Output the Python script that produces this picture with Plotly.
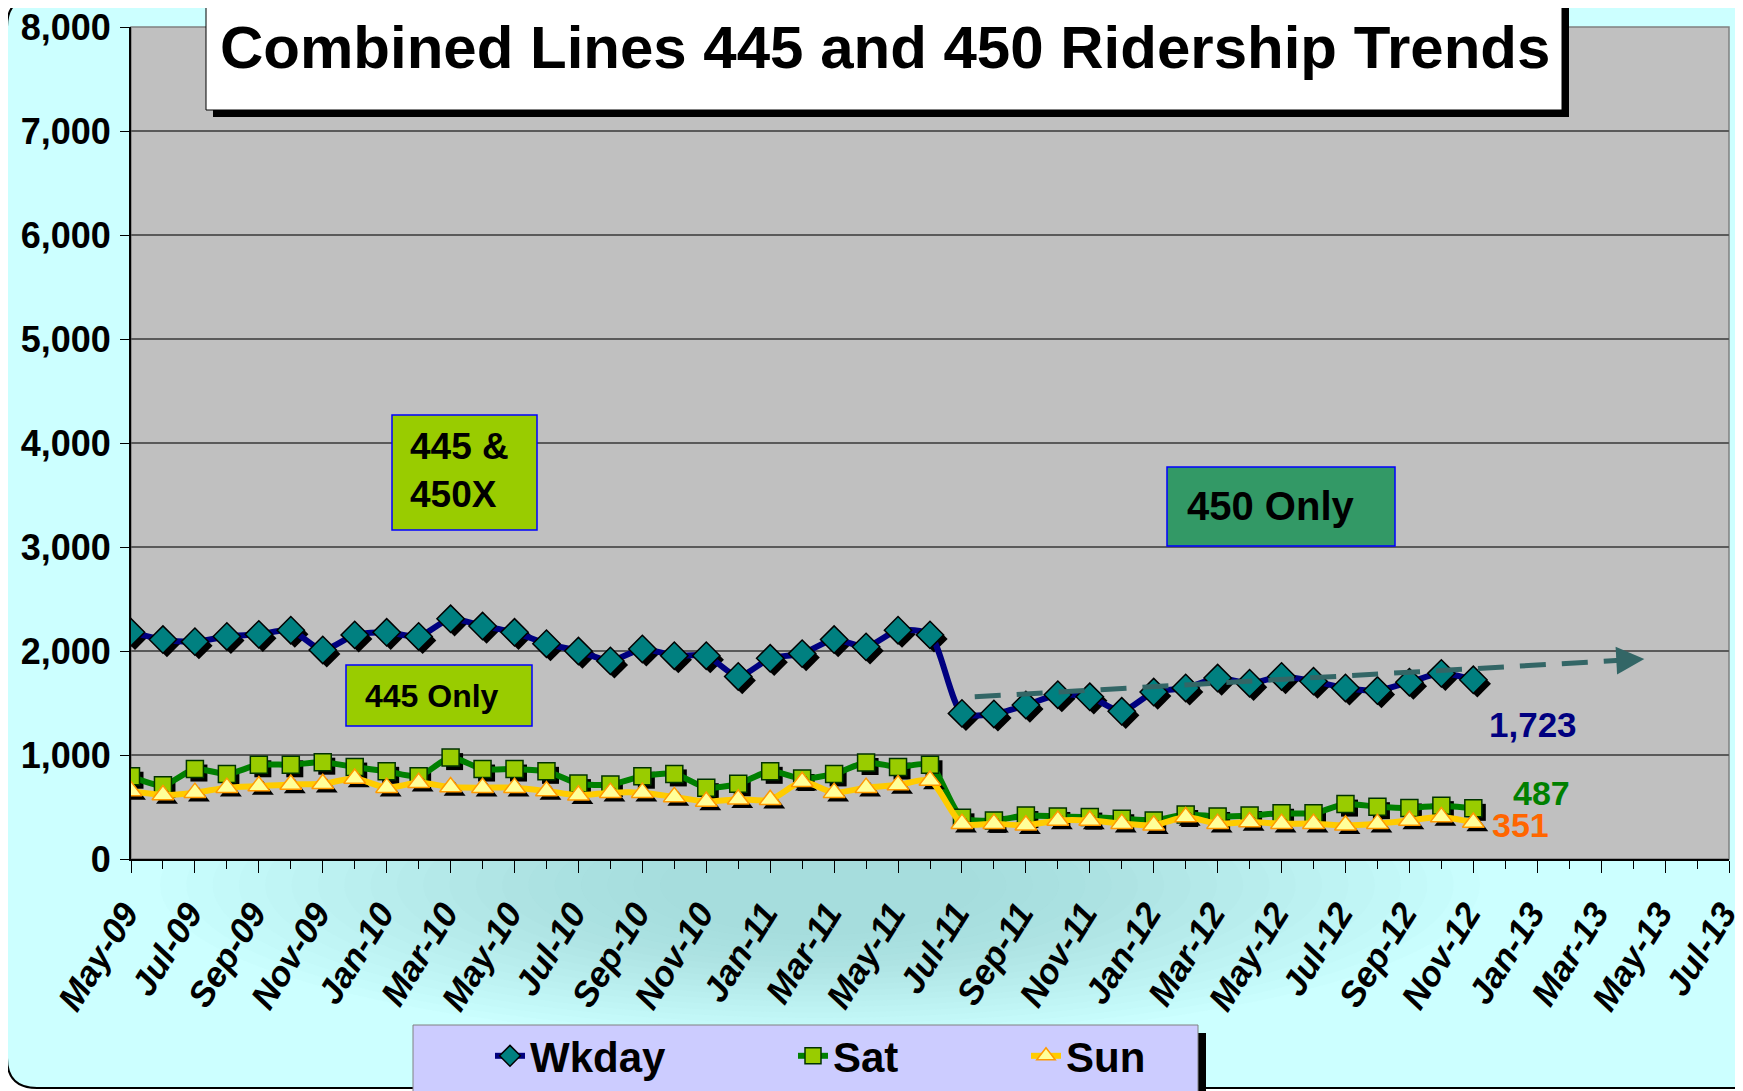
import plotly.graph_objects as go

# ---------------- data ----------------
months = ["May-09","Jun-09","Jul-09","Aug-09","Sep-09","Oct-09","Nov-09","Dec-09",
          "Jan-10","Feb-10","Mar-10","Apr-10","May-10","Jun-10","Jul-10","Aug-10",
          "Sep-10","Oct-10","Nov-10","Dec-10","Jan-11","Feb-11","Mar-11","Apr-11",
          "May-11","Jun-11","Jul-11","Aug-11","Sep-11","Oct-11","Nov-11","Dec-11",
          "Jan-12","Feb-12","Mar-12","Apr-12","May-12","Jun-12","Jul-12","Aug-12",
          "Sep-12","Oct-12","Nov-12"]
tick_labels = ["May-09","Jul-09","Sep-09","Nov-09","Jan-10","Mar-10","May-10","Jul-10",
               "Sep-10","Nov-10","Jan-11","Mar-11","May-11","Jul-11","Sep-11","Nov-11",
               "Jan-12","Mar-12","May-12","Jul-12","Sep-12","Nov-12","Jan-13","Mar-13",
               "May-13","Jul-13"]
wkday = [2180, 2110, 2090, 2140, 2160, 2200, 2010, 2155, 2180, 2140, 2310, 2240, 2180, 2070,
         2000, 1905, 2020, 1955, 1955, 1755, 1930, 1975, 2110, 2040, 2200, 2155, 1400, 1395,
         1480, 1580, 1560, 1420, 1605, 1645, 1740, 1690, 1755, 1710, 1645, 1620, 1700, 1785, 1723]
sat = [796, 708, 865, 818, 906, 906, 931, 884, 843, 796, 975, 865, 865, 843, 725, 717,
       796, 818, 686, 723, 843, 774, 818, 928, 884, 906, 396, 371, 418, 409, 403, 387,
       371, 428, 409, 418, 440, 440, 528, 503, 491, 513, 487]
sun = [654, 616, 638, 686, 701, 717, 723, 774, 686, 733, 692, 686, 686, 654, 612, 638,
       638, 597, 553, 575, 569, 742, 638, 686, 711, 755, 340, 340, 324, 371, 371, 340,
       324, 403, 340, 355, 340, 340, 324, 340, 371, 403, 351]

x = list(range(len(months)))

# ---------------- geometry helpers (viewport pixels) ----------------
W, H = 1743, 1091
OFF = 8                      # default page margin around the figure
PL, PT, PR, PB = 131, 27, 1729, 859   # plot area in viewport pixels
PW, PH = PR - PL, PB - PT
ML, MT = PL - OFF, PT - OFF
MR, MB = W - (PR - OFF), H - (PB - OFF)


def px(v):
    return (v - PL) / PW


def py(v):
    return (PB - v) / PH


N_AXIS = 50
YMAX = 8000
dx_sh = 4 / (PW / N_AXIS)
dy_sh = 4 / (PH / YMAX)

FONT = "Liberation Sans, Arial, sans-serif"

series = [
    ("Wkday", wkday, "#000080", "diamond", "#008080", "#000000", 21, "legend"),
    ("Sat", sat, "#008000", "square", "#99CC00", "#003300", 17, "legend2"),
    ("Sun", sun, "#FFCC00", "triangle-up", "#FFFF99", "#FF9900", 19, "legend3"),
]

fig = go.Figure()
for name, vals, lc, sym, mfill, mline, msize, lg in series:
    fig.add_trace(go.Scatter(
        x=[v + dx_sh for v in x], y=[v - dy_sh for v in vals], mode="markers",
        marker=dict(symbol=sym, size=msize, color="black", line=dict(width=0)),
        showlegend=False, hoverinfo="skip"))
    fig.add_trace(go.Scatter(
        x=x, y=vals, name=name, mode="lines+markers", customdata=months,
        line=dict(color=lc, width=6, shape="spline", smoothing=0.7),
        marker=dict(symbol=sym, size=msize, color=mfill, line=dict(color=mline, width=1.5)),
        legend=lg, hovertemplate="%{customdata}: %{y:,}<extra>" + name + "</extra>"))

shapes = []
# outer frame
r = 30
fx0, fy0, fx1, fy1 = 7, -3, 1800, 1088
shapes.append(dict(type="path", xref="paper", yref="paper", layer="below",
                   path=(f"M {px(fx0+r)},{py(fy0)} L {px(fx1)},{py(fy0)} L {px(fx1)},{py(fy1)} "
                         f"L {px(fx0+r)},{py(fy1)} Q {px(fx0)},{py(fy1)} {px(fx0)},{py(fy1-r)} "
                         f"L {px(fx0)},{py(fy0+r)} Q {px(fx0)},{py(fy0)} {px(fx0+r)},{py(fy0)} Z"),
                   fillcolor="#CCFFFF", line=dict(color="black", width=2)))
# soft darker zone below the plot
cx, cy = 820, 885
n_layers = 20
for k in range(n_layers):
    t = k / (n_layers - 1)
    rx = 660 - t * 500
    ry = 155 - t * 105
    shapes.append(dict(type="circle", xref="paper", yref="paper", layer="below",
                       x0=px(cx - rx), x1=px(cx + rx), y0=py(cy + ry), y1=py(cy - ry),
                       fillcolor="#8FC0C0", opacity=0.036, line=dict(width=0)))
# plot area background
shapes.append(dict(type="rect", xref="paper", yref="paper", layer="below",
                   x0=0, x1=1, y0=0, y1=1, fillcolor="#C0C0C0", line=dict(width=0)))
shapes.append(dict(type="rect", xref="paper", yref="paper", layer="below",
                   x0=0, x1=1, y0=0, y1=1, line=dict(color="#808080", width=1.5)))
# title box
shapes.append(dict(type="rect", xref="paper", yref="paper", layer="above",
                   x0=px(213), x1=px(1569), y0=py(117), y1=py(-10),
                   fillcolor="black", line=dict(width=0)))
shapes.append(dict(type="rect", xref="paper", yref="paper", layer="above",
                   x0=px(206), x1=px(1562), y0=py(110), y1=py(-10),
                   fillcolor="white", line=dict(color="black", width=1)))
# legend box
shapes.append(dict(type="rect", xref="paper", yref="paper", layer="above",
                   x0=px(421), x1=px(1206), y0=py(1100), y1=py(1033),
                   fillcolor="black", line=dict(width=0)))
shapes.append(dict(type="rect", xref="paper", yref="paper", layer="above",
                   x0=px(413), x1=px(1198), y0=py(1100), y1=py(1025),
                   fillcolor="#CCCCFF", line=dict(color="#808080", width=1)))
# callout boxes
boxes = [((392, 415, 537, 530), "#99CC00"),
         ((346, 665, 532, 726), "#99CC00"),
         ((1167, 467, 1395, 546), "#339966")]
for (bx0, by0, bx1, by1), col in boxes:
    shapes.append(dict(type="rect", xref="paper", yref="paper", layer="above",
                       x0=px(bx0), x1=px(bx1), y0=py(by1), y1=py(by0),
                       fillcolor=col, line=dict(color="#0000FF", width=1.5)))

# trend arrow (dashed)
trend_start = (26.4, 1560)
trend_end = (46.6, 1910)
shapes.append(dict(type="line", xref="x", yref="y", layer="above",
                   x0=trend_start[0], y0=trend_start[1], x1=trend_end[0], y1=trend_end[1],
                   line=dict(color="#336666", width=5, dash="26px,16px")))

annotations = [
    dict(xref="paper", yref="paper", x=px(885), y=py(48), xanchor="center", yanchor="middle",
         text="<b>Combined Lines 445 and 450 Ridership Trends</b>", showarrow=False,
         font=dict(family=FONT, size=60, color="black")),
    dict(xref="paper", yref="paper", x=px(408), y=py(470), xanchor="left", yanchor="middle",
         text="<b>445 &amp;<br>450X</b>", showarrow=False, align="left",
         font=dict(family=FONT, size=37, color="black")),
    dict(xref="paper", yref="paper", x=px(363), y=py(696), xanchor="left", yanchor="middle",
         text="<b>445 Only</b>", showarrow=False, font=dict(family=FONT, size=32, color="black")),
    dict(xref="paper", yref="paper", x=px(1185), y=py(506), xanchor="left", yanchor="middle",
         text="<b>450 Only</b>", showarrow=False, font=dict(family=FONT, size=40, color="black")),
    dict(xref="x", yref="y", x=trend_end[0] + 0.75, y=trend_end[1] + 12,
         ax=trend_end[0] - 0.1, ay=trend_end[1] - 2, axref="x", ayref="y",
         text="", showarrow=True, arrowhead=2, arrowsize=1.4, arrowwidth=4, arrowcolor="#336666"),
    dict(xref="x", yref="y", x=x[-1], y=wkday[-1], xshift=60, yshift=-45, showarrow=False,
         text=f"<b>{wkday[-1]:,}</b>", font=dict(family=FONT, size=35, color="#000080")),
    dict(xref="x", yref="y", x=x[-1], y=sat[-1], xshift=68, yshift=15, showarrow=False,
         text=f"<b>{sat[-1]:,}</b>", font=dict(family=FONT, size=34, color="#008000")),
    dict(xref="x", yref="y", x=x[-1], y=sun[-1], xshift=47, yshift=-2, showarrow=False,
         text=f"<b>{sun[-1]:,}</b>", font=dict(family=FONT, size=34, color="#FF6600")),
]

leg_common = dict(orientation="h", bgcolor="rgba(0,0,0,0)", borderwidth=0,
                  xref="container", yref="container",
                  xanchor="left", yanchor="middle",
                  font=dict(family=FONT, size=42, color="black", weight="bold"))
LEG_Y = 1 - (1056 - OFF) / H
fig.update_layout(
    width=W, height=H,
    margin=dict(l=ML, r=MR, t=MT, b=MB, autoexpand=False),
    paper_bgcolor="white",
    plot_bgcolor="rgba(0,0,0,0)",
    shapes=shapes,
    annotations=annotations,
    legend=dict(x=(490 - OFF) / W, y=LEG_Y, **leg_common),
    legend2=dict(x=(793 - OFF) / W, y=LEG_Y, **leg_common),
    legend3=dict(x=(1026 - OFF) / W, y=LEG_Y, **leg_common),
    xaxis=dict(range=[-0.0001, N_AXIS + 0.0001], tickmode="array",
               tickvals=list(range(0, N_AXIS + 1, 2)), ticktext=tick_labels,
               tickangle=-58, showgrid=False, zeroline=False, automargin=False,
               ticklabeloverflow="allow", ticklabelshift=-6,
               showline=True, linecolor="black", linewidth=2,
               ticks="outside", ticklen=12, tickcolor="black", tickwidth=1,
               ticklabelstandoff=6,
               tickfont=dict(family=FONT, size=35, color="black", weight="bold", style="italic"),
               minor=dict(tickmode="linear", tick0=0, dtick=1, ticks="outside", ticklen=8,
                          tickcolor="black", showgrid=False)),
    yaxis=dict(range=[0, YMAX], dtick=1000, tickformat=",", showgrid=True,
               gridcolor="#5a5a5a", gridwidth=1.5, zeroline=False, automargin=False,
               ticklabeloverflow="allow",
               showline=True, linecolor="black", linewidth=2,
               ticks="outside", ticklen=9, tickcolor="black", ticklabelstandoff=2,
               tickfont=dict(family=FONT, size=36, color="black", weight="bold")),
)

fig.write_html("out.html")
